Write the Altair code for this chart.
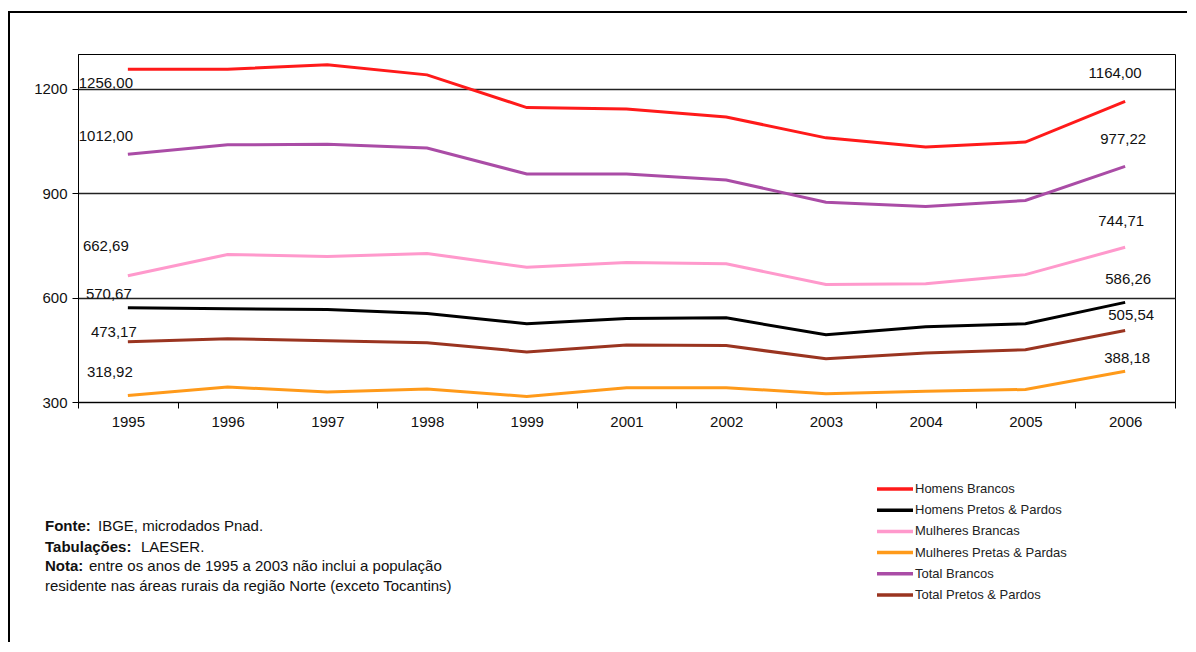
import altair as alt
import pandas as pd

# ---------------- data ----------------
years = ["1995", "1996", "1997", "1998", "1999", "2001", "2002", "2003", "2004", "2005", "2006"]
series_names = ["Homens Brancos", "Homens Pretos & Pardos", "Mulheres Brancas",
                "Mulheres Pretas & Pardas", "Total Brancos", "Total Pretos & Pardos"]
homens_brancos = [1256.00, 1256, 1269, 1240, 1146, 1142, 1119, 1059, 1033, 1047, 1164.00]
homens_pretos = [570.67, 568, 566, 554, 525, 540, 542, 493, 516, 525, 586.26]
mulheres_brancas = [662.69, 724, 718, 727, 687, 701, 697, 638, 640, 666, 744.71]
mulheres_pretas = [318.92, 343, 329, 337, 316, 341, 341, 324, 331, 336, 388.18]
total_brancos = [1012.00, 1039, 1041, 1030, 955, 955, 938, 874, 862, 879, 977.22]
total_pretos = [473.17, 482, 476, 470, 444, 464, 462, 424, 441, 450, 505.54]
y_ticks = [300, 600, 900, 1200]

footnote_bold = ["Fonte:", "Tabulações:", "Nota:"]
footnote_rest = ["IBGE, microdados Pnad.", "LAESER.",
                 "entre os anos de 1995 a 2003 não inclui a população"]
footnote_last = "residente nas áreas rurais da região Norte (exceto Tocantins)"

# ---------------- style ----------------
colors = ["#ff1a1a", "#000000", "#ff99cc", "#ff9a1a", "#aa4ca6", "#9a3420"]
FONT = "Liberation Sans"
W, H = 1097, 348
Y_DOMAIN = [300, 1300]
# label nudges in pixels (dx, dy) for the endpoint value labels
label_nudge_1995 = [(-22, 14), (-19, -14), (-22, -30), (-18, -23), (-22, -18), (-14, -10)]
label_nudge_2006 = [(-10, -28), (3, -23), (-4, -26), (2, -13), (-2, -27), (6, -15)]

values = [homens_brancos, homens_pretos, mulheres_brancas, mulheres_pretas, total_brancos, total_pretos]
rows = []
for name, vals in zip(series_names, values):
    for yr, v in zip(years, vals):
        rows.append({"series": name, "year": yr, "value": v})
df = pd.DataFrame(rows)

px_per_unit = H / (Y_DOMAIN[1] - Y_DOMAIN[0])
half_band = W / len(years) / 2
lab_rows = []
for name, vals, n1, n2 in zip(series_names, values, label_nudge_1995, label_nudge_2006):
    for yr, v, (dx, dy) in ((years[0], vals[0], n1), (years[-1], vals[-1], n2)):
        lab_rows.append({"series": name, "year": yr, "value": v,
                         "label": f"{v:.2f}".replace(".", ","),
                         "ly": v - dy / px_per_unit, "dx": dx + half_band})
lab_df = pd.DataFrame(lab_rows)

color_scale = alt.Scale(domain=series_names, range=colors)
x_scale = alt.Scale(type="band", domain=years, paddingInner=0, paddingOuter=0)
x_axis = alt.Axis(title=None, tickBand="extent", labelAngle=0, tickSize=6,
                  labelPadding=6, labelFontSize=15, labelFont=FONT,
                  labelColor="#111", tickColor="#000", domainColor="#000")
y_scale = alt.Scale(domain=Y_DOMAIN, nice=False, zero=False)

lines = alt.Chart(df).mark_line(strokeWidth=3).encode(
    x=alt.X("year:O", bandPosition=0.5, scale=x_scale, axis=x_axis),
    y=alt.Y("value:Q", scale=y_scale,
            axis=alt.Axis(title=None, values=y_ticks, format="d", grid=True, gridColor="#222",
                          gridWidth=1.3, tickSize=6, labelPadding=5, labelFontSize=15,
                          labelFont=FONT, labelColor="#111", tickColor="#000",
                          domainColor="#000")),
    color=alt.Color("series:N", scale=color_scale, legend=None),
    detail="series:N",
)

labels = alt.Chart(lab_df).mark_text(font=FONT, fontSize=15, align="center",
                                     baseline="middle", color="#111").encode(
    x=alt.X("year:O", scale=x_scale, axis=x_axis),
    y=alt.Y("ly:Q", scale=y_scale, axis=None),
    xOffset=alt.XOffset("dx:Q", scale=None),
    text="label:N",
)

# manual legend
leg_df = pd.DataFrame({"series": series_names})
leg_y = alt.Y("series:N", scale=alt.Scale(type="point", domain=series_names,
                                          range=[435, 541], padding=0), axis=None)
leg_lines = alt.Chart(leg_df).mark_rule(strokeWidth=3.5).encode(
    x=alt.value(799), x2=alt.value(835), y=leg_y,
    color=alt.Color("series:N", scale=color_scale, legend=None),
)
leg_text = alt.Chart(leg_df).mark_text(font=FONT, fontSize=13, align="left",
                                       baseline="middle", color="#222").encode(
    x=alt.value(837), y=leg_y, text="series:N",
)

# footnote
def note(txt, x, y, bold=False):
    return alt.Chart(pd.DataFrame({"t": [txt]})).mark_text(
        font=FONT, fontSize=15, align="left", baseline="alphabetic", color="#111",
        fontWeight="bold" if bold else "normal",
    ).encode(x=alt.value(x), y=alt.value(y), text="t:N")

note_layers = [
    note(footnote_bold[0], -33, 477, True), note(footnote_rest[0], 20, 477),
    note(footnote_bold[1], -33, 498, True), note(footnote_rest[1], 63, 498),
    note(footnote_bold[2], -33, 517, True), note(footnote_rest[2], 11, 517),
    note(footnote_last, -33, 537),
]

# outer frame (left and top edges visible)
one = pd.DataFrame({"a": [0]})
frame_v = alt.Chart(one).mark_rule(strokeWidth=2, color="#000").encode(
    x=alt.value(-69), y=alt.value(-42), y2=alt.value(600))
frame_h = alt.Chart(one).mark_rule(strokeWidth=2, color="#000").encode(
    x=alt.value(-70), x2=alt.value(1130), y=alt.value(-42))

chart = alt.layer(
    lines, labels, leg_lines, leg_text, frame_v, frame_h, *note_layers
).resolve_scale(y="independent").properties(
    width=W, height=H,
    padding={"left": 70, "top": 46, "right": 12, "bottom": 240},
    autosize=alt.AutoSizeParams(type="none"),
).configure_view(stroke="#000", strokeWidth=1)

chart.save("out.html", embed_options={"renderer": "svg", "actions": False})
